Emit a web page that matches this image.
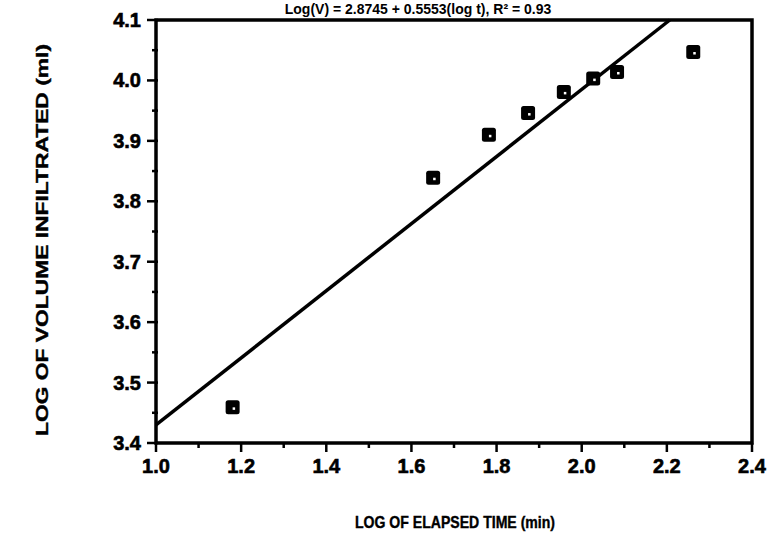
<!DOCTYPE html>
<html>
<head>
<meta charset="utf-8">
<script src="https://cdn.jsdelivr.net/npm/d3@7"></script>
<style>
  body { margin: 0; background: #fff; }
  svg { display: block; }
</style>
</head>
<body>
<div class="container"></div>
<script>
// log of elapsed time (min) vs log of volume infiltrated (ml)
const logTime = [1.18, 1.651, 1.782, 1.874, 1.958, 2.027, 2.083, 2.262];
const logVolume = [3.459, 3.839, 3.910, 3.946, 3.981, 4.003, 4.014, 4.047];
const fitIntercept = 2.8745;
const fitSlope = 0.5553;
const xTicks = [1.0, 1.2, 1.4, 1.6, 1.8, 2.0, 2.2, 2.4];
const yTicks = [3.4, 3.5, 3.6, 3.7, 3.8, 3.9, 4.0, 4.1];
const titleText = "Log(V) = 2.8745 + 0.5553(log t), R² = 0.93";

const width = 774;
const height = 538;
const margin = { top: 20, right: 22, bottom: 95, left: 156 };

const svg = d3
  .select(".container")
  .append("svg")
  .attr("width", width)
  .attr("height", height)
  .attr("font-family", "'Liberation Sans', Arial, sans-serif")
  .attr("font-weight", "bold");

let x = d3
  .scaleLinear()
  .domain([1.0, 2.4])
  .range([margin.left, width - margin.right]);
let y = d3
  .scaleLinear()
  .domain([3.4, 4.1])
  .range([height - margin.bottom, margin.top]);

// frame
svg
  .append("rect")
  .attr("x", x(1.0))
  .attr("y", y(4.1))
  .attr("width", x(2.4) - x(1.0))
  .attr("height", y(3.4) - y(4.1))
  .attr("fill", "none")
  .attr("stroke", "#000")
  .attr("stroke-width", 3.5);

// minor ticks
let xMinor = d3.range(10, 25).map(d => d / 10);
let yMinor = d3.range(68, 83).map(d => d / 20);

svg
  .append("g")
  .selectAll("line")
  .data(xMinor)
  .join("line")
  .attr("x1", d => x(d))
  .attr("x2", d => x(d))
  .attr("y1", y(3.4))
  .attr("y2", (d, i) => y(3.4) + (i % 2 === 0 ? 9 : 5))
  .attr("stroke", "#000")
  .attr("stroke-width", 2.5);

svg
  .append("g")
  .selectAll("line")
  .data(yMinor)
  .join("line")
  .attr("y1", d => y(d))
  .attr("y2", d => y(d))
  .attr("x1", (d, i) => x(1.0) - (i % 2 === 0 ? 9 : 4))
  .attr("x2", x(1.0) + 2)
  .attr("stroke", "#000")
  .attr("stroke-width", 2.5);

// tick labels
svg
  .append("g")
  .attr("font-size", 20)
  .attr("stroke", "#000")
  .attr("stroke-width", 0.6)
  .attr("text-anchor", "middle")
  .selectAll("text")
  .data(xTicks)
  .join("text")
  .attr("x", d => x(d))
  .attr("y", y(3.4) + 30)
  .text(d => d.toFixed(1));

svg
  .append("g")
  .attr("font-size", 20)
  .attr("stroke", "#000")
  .attr("stroke-width", 0.6)
  .attr("text-anchor", "end")
  .selectAll("text")
  .data(yTicks)
  .join("text")
  .attr("x", x(1.0) - 15)
  .attr("y", d => y(d))
  .attr("dy", "0.35em")
  .text(d => d.toFixed(1));

// fit line, clipped at the frame top
let xEnd = Math.min(2.4, (4.1 - fitIntercept) / fitSlope);
svg
  .append("line")
  .attr("x1", x(1.0))
  .attr("y1", y(fitIntercept + fitSlope * 1.0))
  .attr("x2", x(xEnd))
  .attr("y2", y(fitIntercept + fitSlope * xEnd))
  .attr("stroke", "#000")
  .attr("stroke-width", 3.5);

// data points: square markers
let pts = logTime.map((t, i) => ({ t, v: logVolume[i] }));
let mark = svg
  .append("g")
  .selectAll("g")
  .data(pts)
  .join("g")
  .attr("transform", d => `translate(${x(d.t)},${y(d.v)})`);
mark
  .append("rect")
  .attr("x", -7)
  .attr("y", -7)
  .attr("width", 14)
  .attr("height", 14)
  .attr("rx", 2.5)
  .attr("fill", "#000");
mark
  .append("rect")
  .attr("x", 0)
  .attr("y", 0)
  .attr("width", 2.5)
  .attr("height", 2.5)
  .attr("fill", "#fff");

// titles
svg
  .append("text")
  .attr("x", 418)
  .attr("y", 14)
  .attr("text-anchor", "middle")
  .attr("font-size", 14)
  .text(titleText);

svg
  .append("text")
  .attr("x", 455)
  .attr("y", 528)
  .attr("text-anchor", "middle")
  .attr("font-size", 17)
  .attr("stroke", "#000")
  .attr("stroke-width", 0.4)
  .attr("textLength", 200)
  .attr("lengthAdjust", "spacingAndGlyphs")
  .text("LOG OF ELAPSED TIME (min)");

svg
  .append("text")
  .attr("transform", "translate(48,240) rotate(-90)")
  .attr("text-anchor", "middle")
  .attr("font-size", 17)
  .attr("stroke", "#000")
  .attr("stroke-width", 0.4)
  .attr("textLength", 392)
  .attr("lengthAdjust", "spacingAndGlyphs")
  .text("LOG OF VOLUME INFILTRATED (ml)");
</script>
</body>
</html>
